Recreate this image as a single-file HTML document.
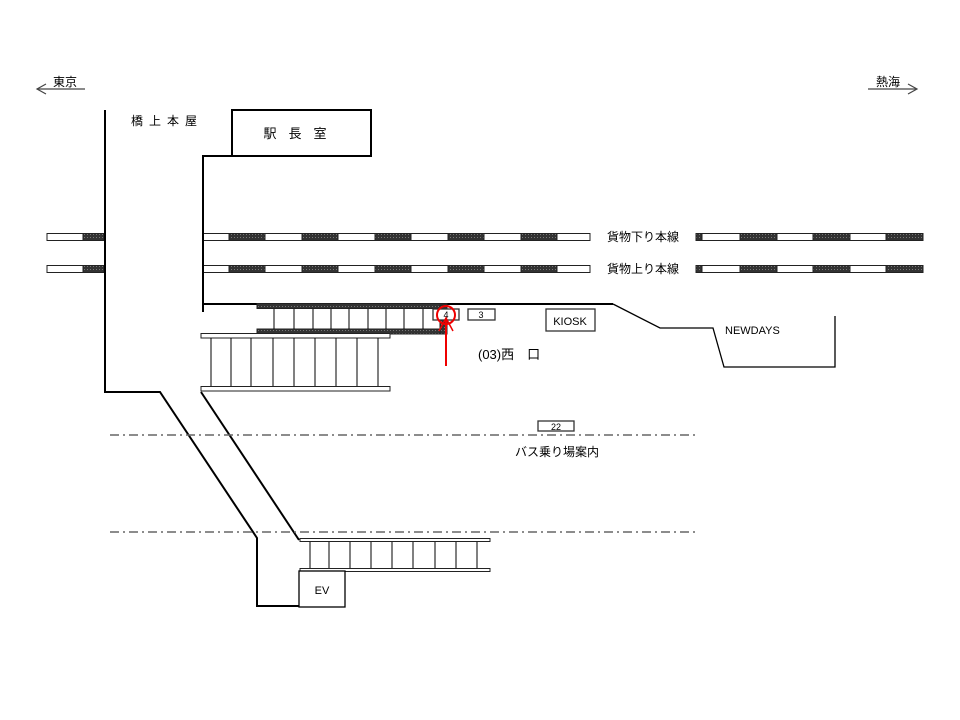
<!DOCTYPE html>
<html><head><meta charset="utf-8"><style>
html,body{margin:0;padding:0;background:#fff;}
svg{display:block;}
text{font-family:"Liberation Sans","Noto Sans CJK JP",sans-serif;fill:#000;}
</style></head><body>
<svg width="960" height="720" viewBox="0 0 960 720" xmlns="http://www.w3.org/2000/svg">
<defs>
<pattern id="dk" width="3" height="3" patternUnits="userSpaceOnUse">
<rect width="3" height="3" fill="#333"/><rect width="1" height="1" fill="#777"/>
</pattern>
</defs>
<g stroke="#222" stroke-width="1">
<g id="tr">
<rect x="47" y="233.5" width="36" height="7" fill="#fff"/>
<rect x="83" y="233.5" width="21" height="7" fill="url(#dk)"/>
<rect x="203" y="233.5" width="26" height="7" fill="#fff"/>
<rect x="229" y="233.5" width="36" height="7" fill="url(#dk)"/>
<rect x="265" y="233.5" width="37" height="7" fill="#fff"/>
<rect x="302" y="233.5" width="36" height="7" fill="url(#dk)"/>
<rect x="338" y="233.5" width="37" height="7" fill="#fff"/>
<rect x="375" y="233.5" width="36" height="7" fill="url(#dk)"/>
<rect x="411" y="233.5" width="37" height="7" fill="#fff"/>
<rect x="448" y="233.5" width="36" height="7" fill="url(#dk)"/>
<rect x="484" y="233.5" width="37" height="7" fill="#fff"/>
<rect x="521" y="233.5" width="36" height="7" fill="url(#dk)"/>
<rect x="557" y="233.5" width="33" height="7" fill="#fff"/>
<rect x="696" y="233.5" width="6" height="7" fill="url(#dk)"/>
<rect x="702" y="233.5" width="38" height="7" fill="#fff"/>
<rect x="740" y="233.5" width="37" height="7" fill="url(#dk)"/>
<rect x="777" y="233.5" width="36" height="7" fill="#fff"/>
<rect x="813" y="233.5" width="37" height="7" fill="url(#dk)"/>
<rect x="850" y="233.5" width="36" height="7" fill="#fff"/>
<rect x="886" y="233.5" width="37" height="7" fill="url(#dk)"/>
</g>
<use href="#tr" y="32"/>
</g>

<g fill="none" stroke="#000" stroke-width="2">
<polyline points="105,110 105,392 160,392 257,538 257,606 300,606"/>
<polyline points="203,312 203,156 371,156"/>
<line x1="203" y1="304" x2="613" y2="304"/>
<polyline points="613,304 660,328 713,328 724,367 835,367 835,316" stroke-width="1.3"/>
<rect x="232" y="110" width="139" height="46"/>
<line x1="201" y1="392" x2="299" y2="540"/>
</g>

<g stroke="#222" stroke-width="1">
<rect x="257" y="303.5" width="190" height="5" fill="url(#dk)"/>
<rect x="257" y="329" width="190" height="5" fill="url(#dk)"/>
<rect x="440" y="305" width="7" height="29" fill="url(#dk)"/>
</g>
<g stroke="#000" stroke-width="1">
<line x1="274" y1="309" x2="274" y2="329"/><line x1="294" y1="309" x2="294" y2="329"/>
<line x1="313" y1="309" x2="313" y2="329"/><line x1="331" y1="309" x2="331" y2="329"/>
<line x1="349" y1="309" x2="349" y2="329"/><line x1="368" y1="309" x2="368" y2="329"/>
<line x1="386" y1="309" x2="386" y2="329"/><line x1="404" y1="309" x2="404" y2="329"/>
<line x1="423" y1="309" x2="423" y2="329"/>
</g>

<g stroke="#222" stroke-width="1" fill="#fff">
<rect x="201" y="333.5" width="189" height="4.5"/>
<rect x="201" y="386.5" width="189" height="4.5"/>
</g>
<g stroke="#000" stroke-width="1">
<line x1="211" y1="338" x2="211" y2="386"/><line x1="231" y1="338" x2="231" y2="386"/>
<line x1="251" y1="338" x2="251" y2="386"/><line x1="273" y1="338" x2="273" y2="386"/>
<line x1="294" y1="338" x2="294" y2="386"/><line x1="315" y1="338" x2="315" y2="386"/>
<line x1="336" y1="338" x2="336" y2="386"/><line x1="357" y1="338" x2="357" y2="386"/>
<line x1="378" y1="338" x2="378" y2="386"/>
</g>

<g stroke="#222" stroke-width="1" fill="#fff">
<rect x="300" y="538.5" width="190" height="3"/>
<rect x="300" y="568.5" width="190" height="3"/>
</g>
<g stroke="#000" stroke-width="1">
<line x1="310" y1="542" x2="310" y2="568"/><line x1="329" y1="542" x2="329" y2="568"/>
<line x1="350" y1="542" x2="350" y2="568"/><line x1="371" y1="542" x2="371" y2="568"/>
<line x1="392" y1="542" x2="392" y2="568"/><line x1="413" y1="542" x2="413" y2="568"/>
<line x1="435" y1="542" x2="435" y2="568"/><line x1="456" y1="542" x2="456" y2="568"/>
<line x1="477" y1="542" x2="477" y2="568"/>
</g>
<rect x="299" y="571" width="46" height="36" fill="#fff" stroke="#000" stroke-width="1.3"/>
<text x="322" y="594" font-size="11" text-anchor="middle">EV</text>

<g stroke="#666" stroke-width="1.5" stroke-dasharray="9,4,2,4">
<line x1="110" y1="435" x2="697" y2="435"/>
<line x1="110" y1="532" x2="697" y2="532"/>
</g>

<g fill="#fff" stroke="#333" stroke-width="1.3">
<rect x="433" y="309" width="26" height="11"/>
<rect x="468" y="309" width="27" height="11"/>
<rect x="538" y="421" width="36" height="10"/>
<rect x="546" y="309" width="49" height="22"/>
</g>
<text x="446" y="318" font-size="9" text-anchor="middle">4</text>
<text x="481" y="318" font-size="9" text-anchor="middle">3</text>
<text x="556" y="430" font-size="9" text-anchor="middle">22</text>
<text x="570" y="325" font-size="11" text-anchor="middle">KIOSK</text>
<text x="725" y="334" font-size="11">NEWDAYS</text>

<circle cx="446" cy="315" r="9" fill="none" stroke="#e00" stroke-width="2"/>
<line x1="446" y1="318" x2="446" y2="366" stroke="#e00" stroke-width="2"/>
<polyline points="439,331 446,318 453,331" fill="none" stroke="#e00" stroke-width="1.5"/>

<text x="478" y="359" font-size="13">(03)西　口</text>
<text x="515" y="456" font-size="12">バス乗り場案内</text>
<text x="607" y="241" font-size="12">貨物下り本線</text>
<text x="607" y="273" font-size="12">貨物上り本線</text>
<text x="131" y="125" font-size="12" letter-spacing="6">橋上本屋</text>
<text x="301" y="138" font-size="13" text-anchor="middle" letter-spacing="12">駅長室</text>

<g stroke="#444" stroke-width="1.2" fill="none">
<line x1="37" y1="89" x2="85" y2="89"/>
<polyline points="46,84 37,89 46,94"/>
<line x1="868" y1="89" x2="916" y2="89"/>
<polyline points="908,84 917,89 908,94"/>
</g>
<text x="53" y="86" font-size="12">東京</text>
<text x="876" y="86" font-size="12">熱海</text>
</svg>
</body></html>
